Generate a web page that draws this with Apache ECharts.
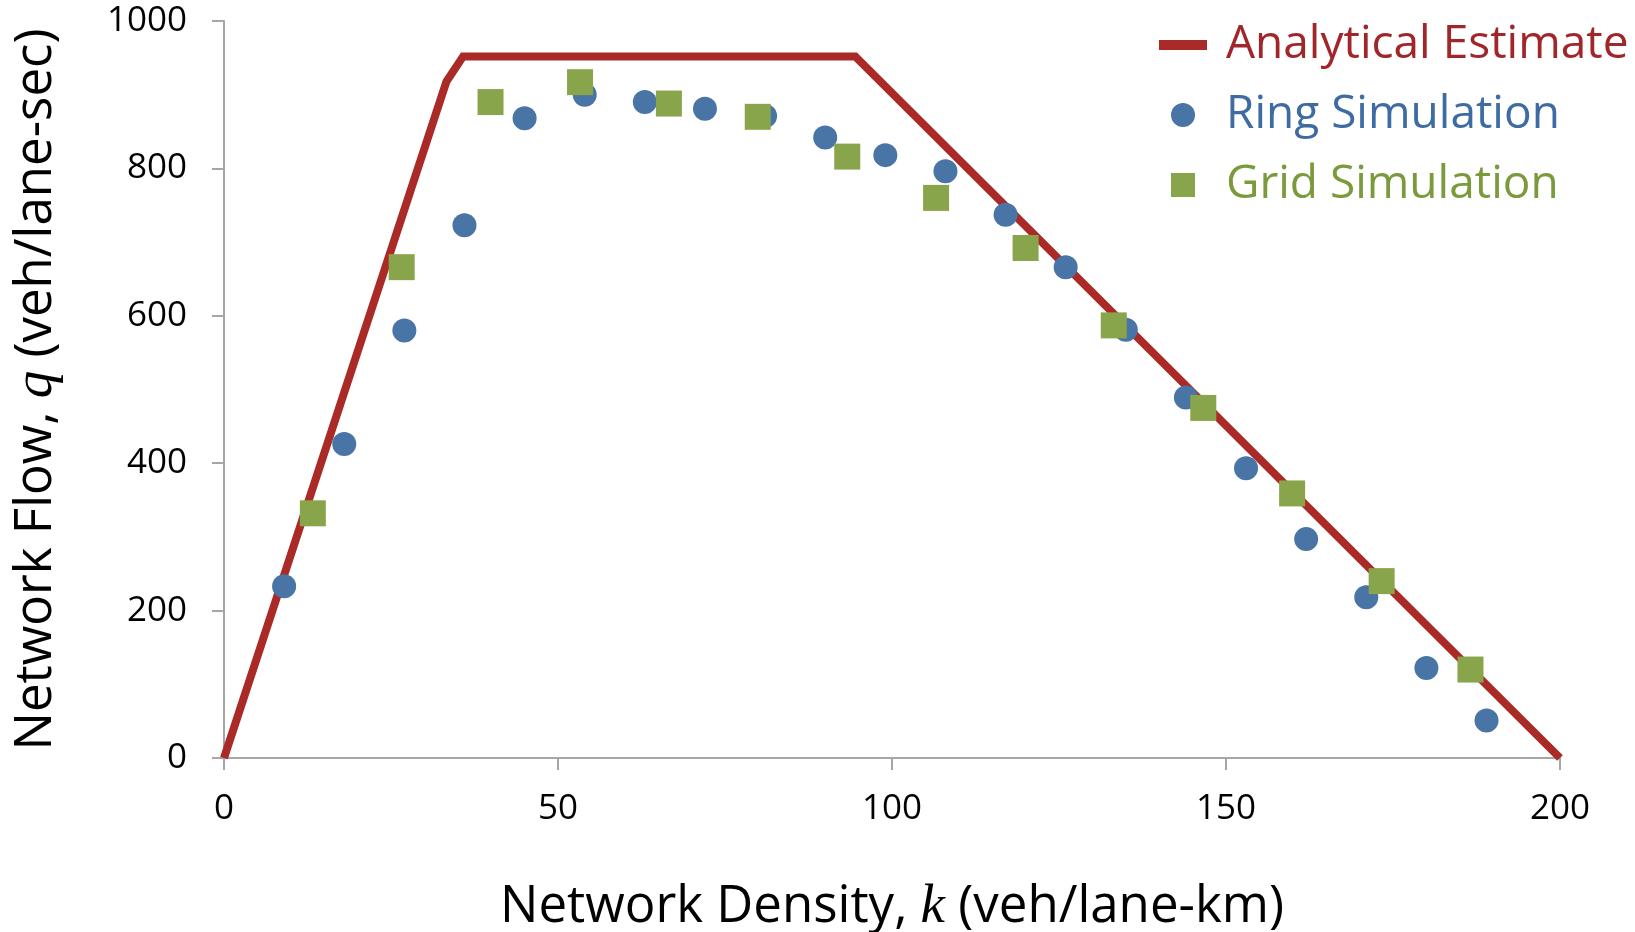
<!DOCTYPE html>
<html>
<head>
<meta charset="utf-8">
<title>Network Flow vs Density</title>
<script src="https://cdn.jsdelivr.net/npm/echarts@6/dist/echarts.min.js"></script>
<style>
  html, body { margin: 0; padding: 0; background: #ffffff; }
  #chart { width: 1635px; height: 932px; }
</style>
</head>
<body>
<div id="chart"></div>
<script>
// Analytical fundamental diagram (density k, flow q)
const analyticalK = [0, 33.3, 35.8, 94.5, 200];
const analyticalQ = [0, 918, 952, 952, 0];

// Ring road simulation results
const ringK = [9, 18, 27, 36, 45, 54, 63, 72, 81, 90, 99, 108, 117, 126, 135, 144, 153, 162, 171, 180, 189];
const ringQ = [233, 426, 580, 723, 868, 900, 890, 881, 871, 842, 818, 796, 737, 666, 581, 489, 393, 297, 218, 122, 51];

// Grid network simulation results
const gridK = [13.3, 26.6, 39.9, 53.3, 66.6, 79.9, 93.3, 106.6, 120, 133.2, 146.6, 159.9, 173.3, 186.6];
const gridQ = [332, 666, 890, 917, 888, 870, 816, 760, 692, 587, 475, 359, 240, 120];

// Axis ticks
const xTicks = [0, 50, 100, 150, 200];
const yTicks = [0, 200, 400, 600, 800, 1000];

const seriesNames = ['Analytical Estimate', 'Ring Simulation', 'Grid Simulation'];

const zip = (a, b) => a.map((v, i) => [v, b[i]]);

const FONT = "'Open Sans', 'Noto Sans', sans-serif";
const MATH_FONT = "'Liberation Serif', 'DejaVu Serif', serif";
const RED = '#AA2A27';
const BLUE = '#4874A6';
const GREEN = '#89A54B';
const AXIS_GREY = '#A6A6A6';

const chart = echarts.init(document.getElementById('chart'), null, { renderer: 'canvas' });

const axisCommon = {
  type: 'value',
  axisLine: { show: true, lineStyle: { color: AXIS_GREY, width: 2 } },
  axisTick: { show: true, length: 12, lineStyle: { color: AXIS_GREY, width: 2 } },
  splitLine: { show: false },
  axisLabel: { color: '#000', fontSize: 35, fontFamily: FONT, formatter: (v) => String(v) }
};

const nameRich = {
  t: { fontSize: 51, fontFamily: FONT, color: '#000' },
  m: { fontSize: 55, fontFamily: MATH_FONT, fontStyle: 'italic', color: '#000' }
};
const yNameRich = {
  t: { fontSize: 51, fontFamily: FONT, color: '#000' },
  m: { fontSize: 55, fontFamily: MATH_FONT, fontStyle: 'italic', color: '#000' }
};

chart.setOption({
  animation: false,
  backgroundColor: '#ffffff',
  grid: { left: 224, right: 75, top: 21, bottom: 174, containLabel: false, outerBoundsMode: 'none' },
  legend: {
    orient: 'vertical',
    left: 1154,
    top: 17,
    itemWidth: 48,
    itemHeight: 24,
    itemGap: 24,
    symbolKeepAspect: true,
    selectedMode: false,
    textStyle: { fontSize: 46, fontFamily: FONT, padding: [0, 0, 0, 14] },
    data: [
      { name: seriesNames[0], icon: 'path://M0,0H48V10H0Z', textStyle: { color: '#A0262A' } },
      { name: seriesNames[1], icon: 'circle', textStyle: { color: '#3E6CA2' } },
      { name: seriesNames[2], icon: 'path://M0,0H10V10H0Z', textStyle: { color: '#7A9A3C' } }
    ]
  },
  xAxis: Object.assign({}, axisCommon, {
    min: xTicks[0],
    max: xTicks[xTicks.length - 1],
    interval: xTicks[1] - xTicks[0],
    axisLabel: Object.assign({}, axisCommon.axisLabel, { margin: 34 }),
    name: '{t|Network Density, }{m|k}{t| (veh/lane-km)}',
    nameLocation: 'middle',
    nameGap: 122,
    nameTextStyle: { fontSize: 51, fontFamily: FONT, color: '#000', rich: nameRich }
  }),
  yAxis: Object.assign({}, axisCommon, {
    min: yTicks[0],
    max: yTicks[yTicks.length - 1],
    interval: yTicks[1] - yTicks[0],
    axisLabel: Object.assign({}, axisCommon.axisLabel, { margin: 37 }),
    name: '{t|Network Flow, }{m|q}{t| (veh/lane-sec)}',
    nameLocation: 'middle',
    nameRotate: 90,
    nameGap: 160,
    nameTextStyle: { fontSize: 51, fontFamily: FONT, color: '#000', rich: yNameRich }
  }),
  series: [
    {
      name: seriesNames[0],
      type: 'line',
      data: zip(analyticalK, analyticalQ),
      showSymbol: false,
      symbol: 'none',
      color: RED,
      lineStyle: { color: RED, width: 8, join: 'miter' },
      z: 2
    },
    {
      name: seriesNames[1],
      type: 'scatter',
      data: zip(ringK, ringQ),
      symbol: 'circle',
      symbolSize: 24,
      color: BLUE,
      itemStyle: { color: BLUE, opacity: 1 },
      z: 3
    },
    {
      name: seriesNames[2],
      type: 'scatter',
      data: zip(gridK, gridQ),
      symbol: 'rect',
      symbolSize: 26,
      color: GREEN,
      itemStyle: { color: GREEN, opacity: 1 },
      z: 4
    }
  ]
});
</script>
</body>
</html>
